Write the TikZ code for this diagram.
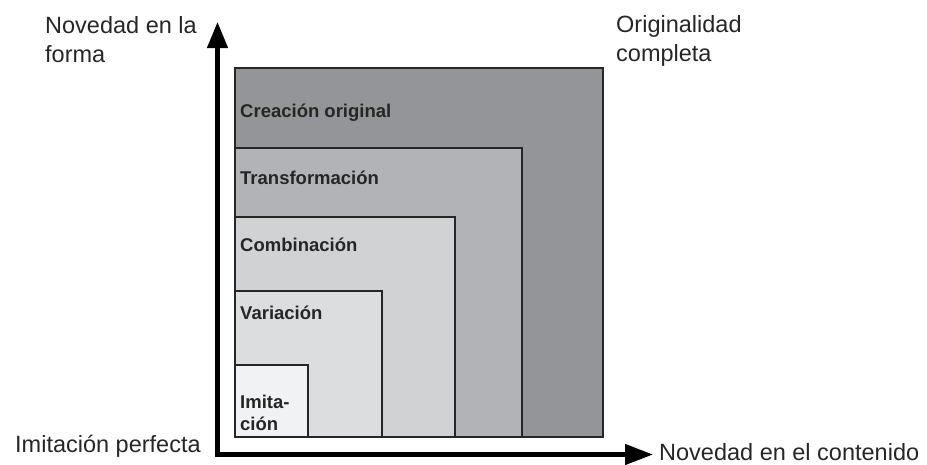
\documentclass[tikz,border=0pt]{standalone}
\usepackage{fontspec}
\setmainfont{Liberation Sans}
\usetikzlibrary{arrows.meta}

\definecolor{shadeA}{HTML}{939598}
\definecolor{shadeB}{HTML}{B1B3B6}
\definecolor{shadeC}{HTML}{D1D2D4}
\definecolor{shadeD}{HTML}{DCDDDF}
\definecolor{shadeE}{HTML}{F1F2F3}

\tikzstyle{levelbox} = [draw=black!85,line width=2pt,inner sep=0pt,outer sep=0pt,anchor=south west]
\tikzstyle{levellabel} = [inner sep=0pt,anchor=base west,align=left,font=\fontsize{18.5}{22}\selectfont\bfseries,text=black!85]
\tikzstyle{axislabel} = [inner sep=0pt,anchor=base west,align=left,font=\fontsize{23.5}{28.5}\selectfont,text=black!85]
\tikzstyle{axisarrow} = [draw,line width=4.5pt,{Triangle[length=26pt,width=20pt]}-{Triangle[length=28pt,width=20pt]}]

\begin{document}
\begin{tikzpicture}[x=1pt,y=-1pt]
      \useasboundingbox (0,0) rectangle (927,464);
      %boxes
      \coordinate (corner) at (234.5,437);
      \foreach \nodename/\w/\h/\shade in {
        creacion/368.5/369/shadeA, transformacion/287.5/289/shadeB,
        combinacion/220.5/220/shadeC, variacion/147.5/146/shadeD,
        imitacion/73.5/72/shadeE}
      {
        \node[levelbox, fill=\shade, minimum width=\w pt, minimum height=\h pt] (\nodename) at (corner) {};
      };
      %labels (base = last line)
      \foreach \nodename/\y/\text in {
        creacion/117/Creación original, transformacion/184/Transformación,
        combinacion/251/Combinación, variacion/319/Variación,
        imitacion/430/{Imita-\\ción}}
      {
        \node[levellabel] (\nodename-label) at (240,\y) {\text};
      };
      \node[axislabel] (forma) at (45,62) {Novedad en la\\forma};
      \node[axislabel] (completa) at (616,61) {Originalidad\\completa};
      \node[axislabel] (perfecta) at (15,452) {Imitación perfecta};
      \node[axislabel] (contenido) at (659,460) {Novedad en el contenido};
      %axes
      \coordinate (origin) at (217.5,454.5);
      \coordinate (ytip) at (217.5,22);
      \coordinate (xtip) at (653,454.5);
      \path[axisarrow] (ytip) -- (origin) -- (xtip);
    \end{tikzpicture}
\end{document}
